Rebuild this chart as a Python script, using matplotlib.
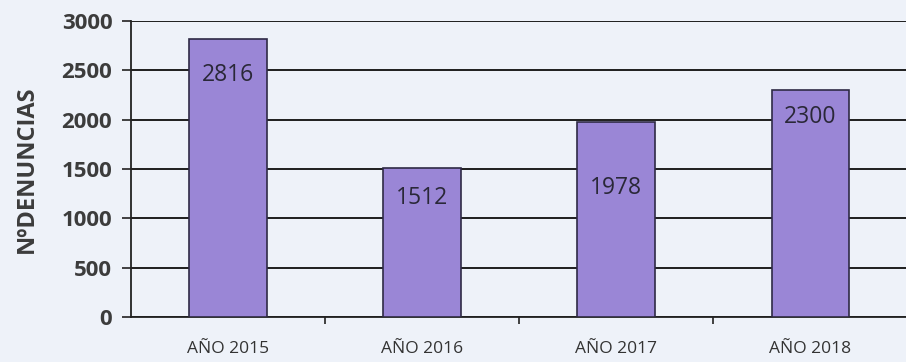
import matplotlib.pyplot as plt
import matplotlib.ticker as ticker

years = ['AÑO 2015', 'AÑO 2016', 'AÑO 2017', 'AÑO 2018']
denuncias = [2816, 1512, 1978, 2300]
label_y = [2453, 1206, 1307, 2027]

bg = '#eef2f9'
fig = plt.figure(figsize=[9.06, 3.62], dpi=100, facecolor=bg)
ax = fig.add_axes([0.1446, 0.1243, 0.857, 0.8177])
ax.set_facecolor(bg)

xs = range(len(years))
ax.bar(xs, denuncias, width=0.4, color='#9a86d6', edgecolor='#2e2a45', linewidth=1.2, zorder=3)
for x, v, ly in zip(xs, denuncias, label_y):
    ax.text(x, ly, str(v), ha='center', va='center', fontsize=16.5,
            color='#2a2838', family='Open Sans', zorder=4)

ax.set_xlim(-0.5, len(years) - 0.5)
ax.set_ylim(0, 3000)
ax.yaxis.set_major_locator(ticker.MultipleLocator(500))
ax.grid(True, axis='y', color='#1e1e1e', linewidth=1.4, zorder=1)

ax.set_xticks(list(xs))
ax.set_xticklabels(years, fontsize=12.5, color='#333333', family='Open Sans')
ax.xaxis.set_minor_locator(ticker.FixedLocator([0.5, 1.5, 2.5]))
ax.tick_params(axis='x', which='major', length=0, pad=17)
ax.tick_params(axis='x', which='minor', length=5, width=1.2, color='#222222')
ax.tick_params(axis='y', length=6.5, width=1.2, color='#222222', pad=7)
for lab in ax.get_yticklabels():
    lab.set_fontsize(16)
    lab.set_fontweight('bold')
    lab.set_color('#3c3c3c')
    lab.set_family('Open Sans')

for s in ['top', 'right']:
    ax.spines[s].set_visible(False)
ax.spines['left'].set_color('#222222')
ax.spines['left'].set_linewidth(1.3)
ax.spines['bottom'].set_color('#222222')
ax.spines['bottom'].set_linewidth(1.3)

ax.set_ylabel('NºDENUNCIAS', fontsize=17, fontweight='bold', color='#3c3c3c',
              family='Open Sans', labelpad=16)

fig.savefig('out.png', dpi=100, facecolor=bg)
